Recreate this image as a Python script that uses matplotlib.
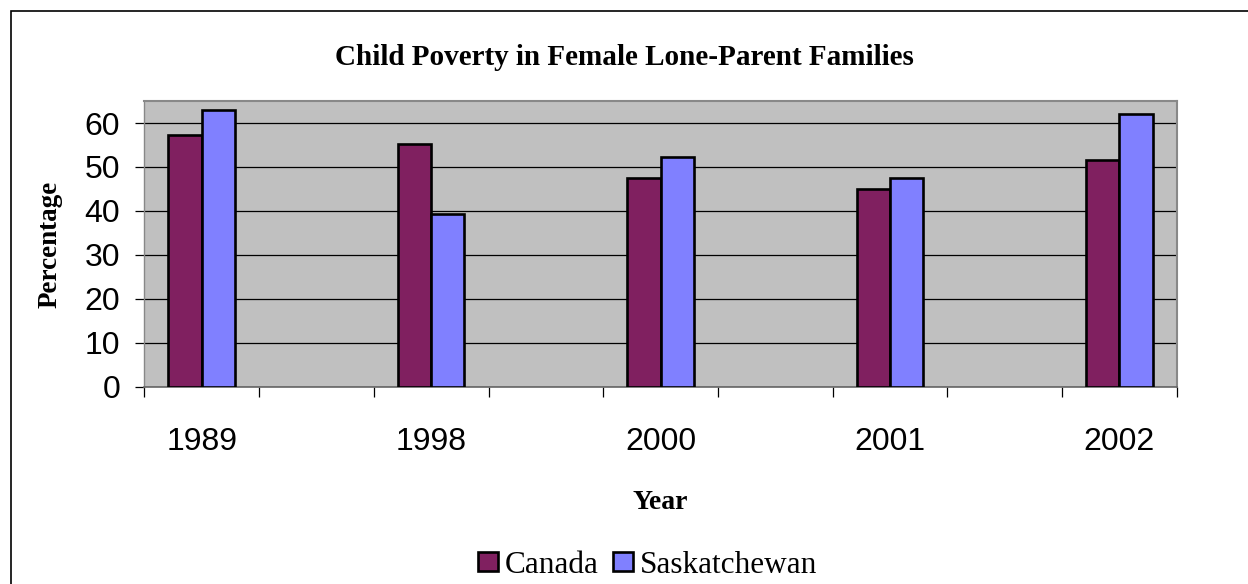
import numpy as np
import matplotlib
matplotlib.use("Agg")
import matplotlib.pyplot as plt
from matplotlib.patches import Rectangle

# data
years = ["1989", "1998", "2000", "2001", "2002"]
canada = [57.3, 55.2, 47.6, 45.0, 51.6]
saskatchewan = [62.9, 39.3, 52.2, 47.6, 62.1]

col_canada = "#802060"
col_sask = "#8080FF"

fig = plt.figure(figsize=(12.48, 5.84), dpi=100)
ax = fig.add_axes([0.1157, 0.3378, 0.8272, 0.4892])

# the original chart has an empty category slot between every labelled year
pos = np.arange(len(years)) * 2
w = 0.29
ax.bar(pos - w / 2, canada, width=w, color=col_canada, edgecolor="black",
       linewidth=1.9, label="Canada", zorder=3)
ax.bar(pos + w / 2, saskatchewan, width=w, color=col_sask, edgecolor="black",
       linewidth=1.9, label="Saskatchewan", zorder=3)

ax.set_facecolor("#C0C0C0")
ax.set_xlim(-0.5, pos[-1] + 0.5)
ax.set_ylim(0, 65)
ax.set_yticks(range(0, 61, 10))
ax.yaxis.grid(True, color="black", linewidth=0.9, zorder=1)
ax.set_axisbelow(True)

ax.set_xticks(pos)
ax.set_xticklabels(years, fontname="Liberation Sans", fontsize=23)
ax.set_xticks(np.arange(-0.5, pos[-1] + 1, 1), minor=True)
ax.tick_params(axis="x", which="major", length=0, pad=29)
ax.tick_params(axis="x", which="minor", length=7, width=0.9, color="black")
ax.tick_params(axis="y", length=6.5, width=0.9, pad=11)
for t in ax.get_yticklabels():
    t.set_fontname("Liberation Sans")
    t.set_fontsize(23)

for s in ["top", "right"]:
    ax.spines[s].set_color("#888888")
    ax.spines[s].set_linewidth(1.5)
ax.spines["left"].set_color("#888888")
ax.spines["bottom"].set_color("#666666")
ax.spines["left"].set_linewidth(1.0)
ax.spines["bottom"].set_linewidth(1.2)

ax.set_xlabel("Year", fontname="Liberation Serif", fontweight="bold", fontsize=20)
ax.xaxis.set_label_coords(0.5, -0.36)
ax.set_ylabel("Percentage", fontname="Liberation Serif", fontweight="bold", fontsize=19.5)
ax.yaxis.set_label_coords(-0.079, 0.5)

fig.text(0.5, 0.902, "Child Poverty in Female Lone-Parent Families",
         ha="center", va="center", fontname="Liberation Serif",
         fontweight="bold", fontsize=21)

leg = fig.legend(loc="center", bbox_to_anchor=(0.519, 0.032), ncol=2,
                 frameon=False, prop={"family": "Liberation Serif", "size": 22.5},
                 handlelength=0.64, handleheight=0.55, handletextpad=0.22,
                 columnspacing=0.45, borderpad=0.2)

# outer chart border (only top and left edges are inside the picture)
fig.patches.append(Rectangle((0.0088, -0.1), 1.2, 1.081, transform=fig.transFigure,
                             fill=False, edgecolor="black", linewidth=1.2))

fig.savefig("out.png", dpi=100)
